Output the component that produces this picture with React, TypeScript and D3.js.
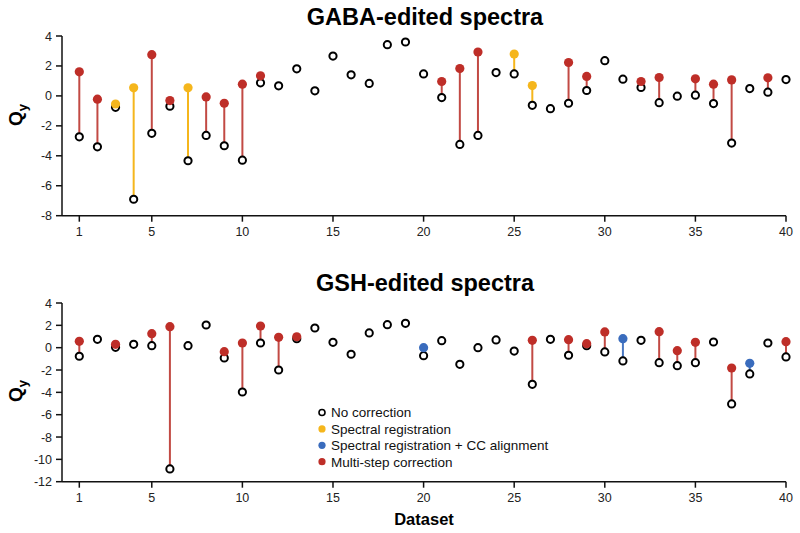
import React from "react";
import * as d3 from "d3";

// dataset index 1..40
const datasets = d3.range(1, 41);
const xTicks = [1, 5, 10, 15, 20, 25, 30, 35, 40];

// GABA-edited: uncorrected Qy, corrected Qy and which method got used
const gabaNone = [-2.73, -3.4, -0.76, -6.9, -2.5, -0.69, -4.33, -2.64, -3.33, -4.29, 0.87, 0.67, 1.81, 0.34, 2.66, 1.41, 0.83, 3.42, 3.6, 1.47, -0.11, -3.24, -2.64, 1.56, 1.47, -0.63, -0.85, -0.49, 0.36, 2.35, 1.12, 0.56, -0.45, -0.02, 0.05, -0.51, -3.15, 0.49, 0.25, 1.09];
const gabaCorr = [1.61, -0.22, -0.54, 0.54, 2.75, -0.31, 0.54, -0.07, -0.49, 0.78, 1.34, null, null, null, null, null, null, null, null, null, 0.96, 1.83, 2.93, null, 2.79, 0.69, null, 2.23, 1.3, null, null, 0.96, 1.23, null, 1.14, 0.78, 1.07, null, 1.21, null];
const gabaMethod = ["M", "M", "S", "S", "M", "M", "S", "M", "M", "M", "M", "", "", "", "", "", "", "", "", "", "M", "M", "M", "", "S", "S", "", "M", "M", "", "", "M", "M", "", "M", "M", "M", "", "M", ""];

// GSH-edited
const gshNone = [-0.77, 0.75, 0.03, 0.3, 0.18, -10.86, 0.18, 2.03, -0.92, -3.97, 0.42, -2.0, 0.81, 1.76, 0.48, -0.59, 1.32, 2.06, 2.18, -0.72, 0.63, -1.49, 0.0, 0.69, -0.3, -3.28, 0.75, -0.68, 0.18, -0.38, -1.19, 0.66, -1.34, -1.61, -1.34, 0.51, -5.04, -2.35, 0.42, -0.83];
const gshCorr = [0.57, null, 0.3, null, 1.25, 1.88, null, null, -0.36, 0.42, 1.94, 0.93, 0.98, null, null, null, null, null, null, 0.0, null, null, null, null, null, 0.66, null, 0.72, 0.36, 1.41, 0.81, null, 1.43, -0.27, 0.48, null, -1.82, -1.4, null, 0.54];
const gshMethod = ["M", "", "M", "", "M", "M", "", "", "M", "M", "M", "M", "M", "", "", "", "", "", "", "C", "", "", "", "", "", "M", "", "M", "M", "M", "C", "", "M", "M", "M", "", "M", "C", "", "M"];

const legendItems = [
  { key: "N", label: "No correction" },
  { key: "S", label: "Spectral registration" },
  { key: "C", label: "Spectral registration + CC alignment" },
  { key: "M", label: "Multi-step correction" },
];

const dotColor: Record<string, string> = { S: "#f5b61c", C: "#3a6cbd", M: "#be2e28" };
const stemColor: Record<string, string> = { S: "#f5b61c", C: "#4a78c2", M: "#c24a44" };

const FONT = "'Liberation Sans', Arial, Helvetica, sans-serif";

const x = d3.scaleLinear().domain([0.045, 40]).range([62, 786]);

type PanelProps = {
  title: string;
  titleY: number;
  labelY: number;
  top: number;
  bottom: number;
  domain: [number, number];
  none: number[];
  corr: (number | null)[];
  method: string[];
};

const Panel = ({ title, titleY, labelY, top, bottom, domain, none, corr, method }: PanelProps) => {
  const y = d3.scaleLinear().domain(domain).range([bottom, top]);
  const yTicks = d3.range(domain[0], domain[1] + 1, 2);
  const x0 = x.range()[0];
  const x1 = x.range()[1];
  return (
    <g>
      <text x={425} y={titleY} textAnchor="middle" fontFamily={FONT} fontWeight="bold" fontSize={23.5}>
        {title}
      </text>
      <text
        transform={`translate(22,${labelY}) rotate(-90)`}
        textAnchor="middle"
        fontFamily={FONT}
        fontWeight="bold"
        fontSize={19}
      >
        Q<tspan fontSize={13} dy={5}>y</tspan>
      </text>
      {/* axes */}
      <line x1={x0} x2={x0} y1={top} y2={bottom} stroke="#111" strokeWidth={1.5} />
      <line x1={x0} x2={x1} y1={bottom} y2={bottom} stroke="#111" strokeWidth={1.5} />
      {yTicks.map((t) => (
        <g key={t}>
          <line x1={x0 - 6} x2={x0} y1={y(t)} y2={y(t)} stroke="#111" strokeWidth={1.5} />
          <text x={x0 - 10} y={y(t) + 4.5} textAnchor="end" fontFamily={FONT} fontSize={12.5} fill="#222">
            {t}
          </text>
        </g>
      ))}
      {xTicks.map((t) => (
        <g key={t}>
          <line x1={x(t)} x2={x(t)} y1={bottom} y2={bottom + 6} stroke="#111" strokeWidth={1.5} />
          <text x={x(t)} y={bottom + 20} textAnchor="middle" fontFamily={FONT} fontSize={12.5} fill="#222">
            {t}
          </text>
        </g>
      ))}
      {/* stems */}
      {datasets.map((d, i) =>
        corr[i] == null ? null : (
          <line
            key={"s" + d}
            x1={x(d)}
            x2={x(d)}
            y1={y(none[i])}
            y2={y(corr[i] as number)}
            stroke={stemColor[method[i]]}
            strokeWidth={2}
          />
        )
      )}
      {datasets.map((d, i) => (
        <circle key={"n" + d} cx={x(d)} cy={y(none[i])} r={3.6} fill="#fff" stroke="#000" strokeWidth={2} />
      ))}
      {datasets.map((d, i) =>
        corr[i] == null ? null : (
          <circle key={"c" + d} cx={x(d)} cy={y(corr[i] as number)} r={4.6} fill={dotColor[method[i]]} />
        )
      )}
    </g>
  );
};

export default function App() {
  return (
    <svg width={800} height={533} style={{ position: "absolute", left: 0, top: 0, background: "#fff" }}>
      <Panel
        title="GABA-edited spectra"
        titleY={25}
        labelY={115}
        top={36}
        bottom={215.7}
        domain={[-8, 4]}
        none={gabaNone}
        corr={gabaCorr}
        method={gabaMethod}
      />
      <Panel
        title="GSH-edited spectra"
        titleY={291}
        labelY={391}
        top={303}
        bottom={481.7}
        domain={[-12, 4]}
        none={gshNone}
        corr={gshCorr}
        method={gshMethod}
      />
      <text x={424} y={525} textAnchor="middle" fontFamily={FONT} fontWeight="bold" fontSize={16.5}>
        Dataset
      </text>
      {legendItems.map((it, i) => {
        const ly = 412.5 + i * 16.4;
        return (
          <g key={it.key}>
            {it.key === "N" ? (
              <circle cx={322} cy={ly} r={3} fill="#fff" stroke="#000" strokeWidth={1.6} />
            ) : (
              <circle cx={322} cy={ly} r={3.6} fill={dotColor[it.key]} />
            )}
            <text x={331} y={ly + 4.8} fontFamily={FONT} fontSize={13.5} fill="#111">
              {it.label}
            </text>
          </g>
        );
      })}
    </svg>
  );
}
